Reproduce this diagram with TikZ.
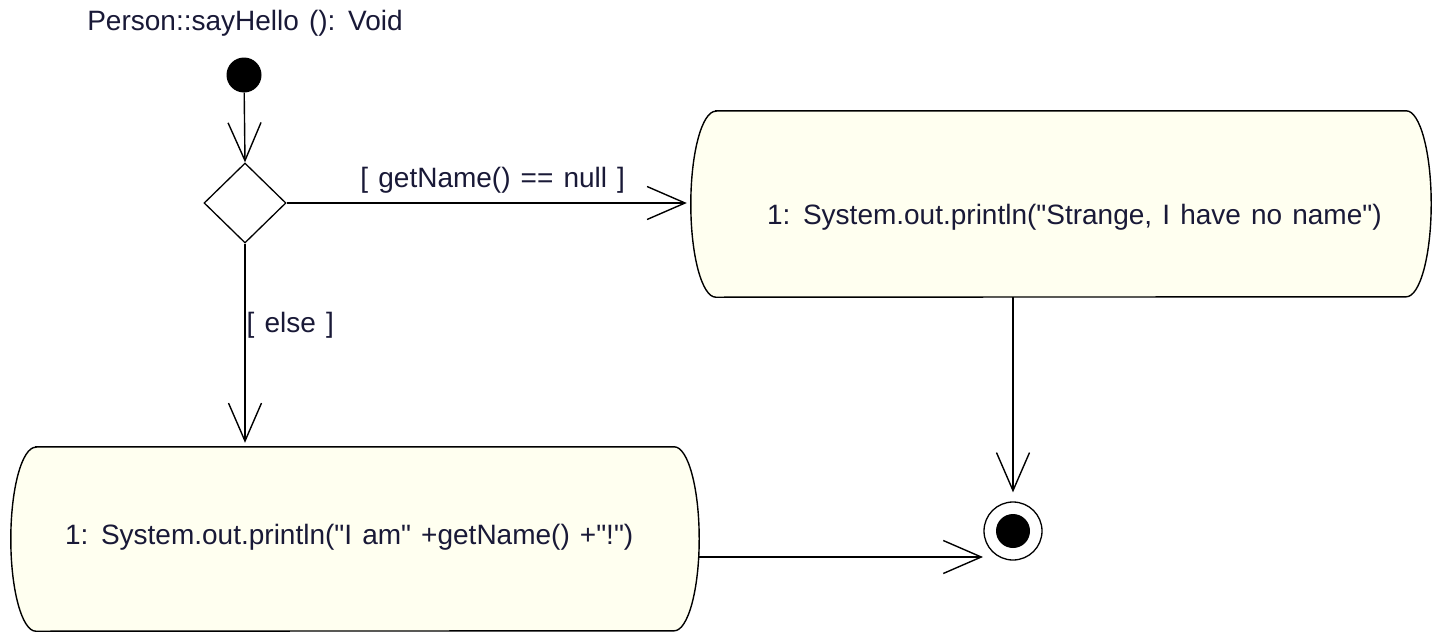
\documentclass[tikz,border=0pt]{standalone}
\usepackage{fontspec}
\setmainfont{Liberation Sans}[WordSpace=1.3]
\usetikzlibrary{arrows.meta,shapes.geometric,backgrounds,calc}
\definecolor{actfill}{RGB}{255,255,240}
\definecolor{txt}{RGB}{25,25,55}
\newcommand{\q}{\textquotedbl{}}
\tikzset{
  x=1pt, y=-1pt,
  ln/.style={draw=black, line width=1.4pt},
  flow/.style={ln, -{Straight Barb[length=38pt,width=33pt]}},
  lbl/.style={font=\fontsize{28}{32}\selectfont, text=txt, inner sep=0pt},
  actbox/.style={rectangle, inner sep=0pt, minimum width=#1},
  actoutline/.style={ln, fill=actfill},
}
\newcommand{\actshape}[2]{% node name, y radius
  \path[actoutline] ([xshift=25pt]#1.north west) -- ([xshift=-25pt]#1.north east)
    arc[start angle=90, end angle=-90, x radius=25pt, y radius=#2]
    -- ([xshift=25pt]#1.south west)
    arc[start angle=270, end angle=90, x radius=25pt, y radius=#2] -- cycle;}
\begin{document}
\begin{tikzpicture}
\useasboundingbox (0,0) rectangle (1432,632);

% title
\node[lbl] (title) at (245,23) {Person::sayHello (): Void};

% start node
\node[circle, fill=black, minimum size=35pt, inner sep=0pt] (start) at (244,75) {};

% decision
\node[diamond, draw=black, line width=1.3pt, aspect=1, minimum width=82pt, minimum height=80pt, inner sep=0pt] (dec) at (245,203) {};

% action boxes (outline frames)
\node[actbox=740pt, minimum height=186pt] (rbox) at (1061,204) {};
\node[actbox=688pt, minimum height=184pt] (lbox) at (355,539) {};
\begin{scope}[on background layer]
  \fill[white] (0,0) rectangle (1432,632);
  \actshape{rbox}{93pt}
  \actshape{lbox}{92pt}
\end{scope}
\node[lbl, anchor=west] (rtext) at ($(rbox.west)+(76,13)$) {1: System.out.println(\q Strange, I have no name\q)};
\node[lbl, anchor=west] (ltext) at ($(lbox.west)+(54,-2)$) {1: System.out.println(\q I am\q\ +getName() +\q!\q)};

% final node
\node[circle, draw=black, line width=1.3pt, minimum size=58pt, inner sep=0pt] (final) at (1013,531) {};
\fill[black] (final.center) circle[radius=17pt];
\coordinate (finin) at ($(final.center)+(-30,26)$);

% connectors
\draw[flow] (start) -- (dec.north);
\draw[flow, shorten >=4pt] (dec.east) -- (dec.east -| rbox.west)
  node[lbl, pos=0.51, above=9pt] (g1) {[ getName() == null ]};
\draw[flow, shorten >=4pt] (dec.south) -- (dec.south |- lbox.north)
  node[lbl, pos=0.40, right=1pt, anchor=west] (g2) {[ else ]};
\draw[flow, shorten >=9pt] (final.north |- rbox.south) -- (final.north);
\draw[flow] (lbox.east |- finin) -- (finin);
\end{tikzpicture}
\end{document}
